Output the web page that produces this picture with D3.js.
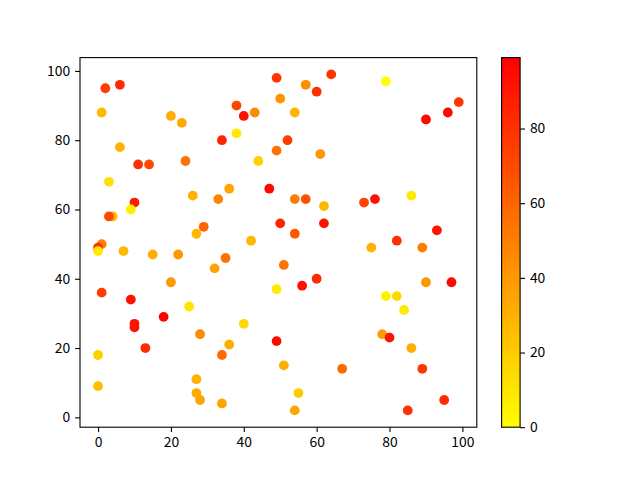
<!DOCTYPE html>
<html>
<head>
<meta charset="utf-8">
<script src="https://cdn.jsdelivr.net/npm/d3@7"></script>
<style>
  body { margin: 0; background: #fff; }
  svg text { font-family: "Noto Sans CJK SC", "Noto Sans", sans-serif; font-size: 13.9px; fill: #000; }
</style>
</head>
<body>
<svg id="chart" width="640" height="480"></svg>
<script>
// scatter points
var xs = [2, 6, 1, 20, 23, 49, 50, 38, 40, 43, 38, 34, 52, 6, 11, 14, 24, 44, 49, 3,
          26, 33, 36, 47, 10, 9, 4, 3, 50, 29, 27, 42, 1, 0, 64, 79, 57, 60, 54, 99,
          96, 90, 61, 54, 57, 62, 73, 76, 86, 62, 54, 93, 82, 75, 89, 0, 7, 15, 22, 35,
          32, 51, 1, 20, 9, 49, 25, 18, 10, 10, 40, 28, 36, 49, 13, 34, 0, 51, 27, 0,
          27, 28, 34, 60, 56, 90, 97, 79, 82, 84, 78, 80, 86, 67, 89, 55, 54, 85, 95];
var ys = [95, 96, 88, 87, 85, 98, 92, 90, 87, 88, 82, 80, 80, 78, 73, 73, 74, 74, 77, 68,
          64, 63, 66, 66, 62, 60, 58, 58, 56, 55, 53, 51, 50, 49, 99, 97, 96, 94, 88, 91,
          88, 86, 76, 63, 63, 61, 62, 63, 64, 56, 53, 54, 51, 49, 49, 48, 48, 47, 47, 46,
          43, 44, 36, 39, 34, 37, 32, 29, 27, 26, 27, 24, 21, 22, 20, 18, 18, 15, 11, 9,
          7, 5, 4, 40, 38, 39, 39, 35, 35, 31, 24, 23, 20, 14, 14, 7, 2, 2, 5];
var cs = [75, 82, 28, 32, 33, 78, 42, 72, 92, 45, 8, 85, 75, 30, 80, 70, 55, 18, 55, 12,
          30, 48, 35, 95, 88, 5, 28, 70, 85, 60, 28, 28, 50, 80, 78, 0, 45, 80, 30, 78,
          95, 95, 40, 50, 68, 28, 72, 92, 8, 92, 65, 92, 80, 30, 50, 8, 28, 32, 40, 55,
          35, 55, 75, 40, 92, 8, 10, 99, 92, 92, 15, 45, 32, 95, 82, 58, 18, 32, 30, 25,
          33, 35, 35, 82, 92, 40, 95, 5, 15, 8, 38, 92, 32, 58, 78, 20, 35, 80, 82];
var xTicks = [0, 20, 40, 60, 80, 100];
var yTicks = [0, 20, 40, 60, 80, 100];
var cTicks = [0, 20, 40, 60, 80];

var points = xs.map(function(d, i) { return {x: d, y: ys[i], c: cs[i]}; });

var svg = d3.select("#chart");
var plot = {left: 80, right: 476.8, top: 57.6, bottom: 427.2};
var cbar = {left: 501.6, right: 520.1, top: 57.6, bottom: 427.2};

// matplotlib-ish 5% margins
function padded(ext) {
  var span = ext[1] - ext[0];
  return [ext[0] - span * 0.05, ext[1] + span * 0.05];
}

var x = d3.scaleLinear()
    .domain(padded(d3.extent(xs)))
    .range([plot.left, plot.right]);
var y = d3.scaleLinear()
    .domain(padded(d3.extent(ys)))
    .range([plot.bottom, plot.top]);
var color = d3.scaleLinear()
    .domain(d3.extent(cs))
    .range(["#ffff00", "#ff0000"])
    .interpolate(d3.interpolateRgb);

// points
svg.append("g")
  .selectAll("circle")
  .data(points)
  .join("circle")
    .attr("cx", function(d) { return x(d.x); })
    .attr("cy", function(d) { return y(d.y); })
    .attr("r", 4.9)
    .attr("fill", function(d) { return color(d.c); });

// axes
var xAxis = svg.append("g")
    .attr("transform", "translate(0," + plot.bottom + ")")
    .call(d3.axisBottom(x).tickValues(xTicks).tickSize(4.9).tickPadding(4.9));
var yAxis = svg.append("g")
    .attr("transform", "translate(" + plot.left + ",0)")
    .call(d3.axisLeft(y).tickValues(yTicks).tickSize(4.9).tickPadding(4.9));
[xAxis, yAxis].forEach(function(a) {
  a.select(".domain").remove();
  a.selectAll(".tick line").attr("stroke", "#000").attr("stroke-width", 1.1);
  a.selectAll(".tick text").attr("font-size", null).attr("font-family", null);
});

svg.append("rect")
    .attr("x", plot.left).attr("y", plot.top)
    .attr("width", plot.right - plot.left).attr("height", plot.bottom - plot.top)
    .attr("fill", "none").attr("stroke", "#000").attr("stroke-width", 1.1);

// colorbar
var cScale = d3.scaleLinear()
    .domain(d3.extent(cs))
    .range([cbar.bottom, cbar.top]);
var grad = svg.append("defs").append("linearGradient")
    .attr("id", "cgrad")
    .attr("x1", 0).attr("y1", 1).attr("x2", 0).attr("y2", 0);
grad.append("stop").attr("offset", "0%").attr("stop-color", color(cScale.domain()[0]));
grad.append("stop").attr("offset", "100%").attr("stop-color", color(cScale.domain()[1]));

svg.append("rect")
    .attr("x", cbar.left).attr("y", cbar.top)
    .attr("width", cbar.right - cbar.left).attr("height", cbar.bottom - cbar.top)
    .attr("fill", "url(#cgrad)").attr("stroke", "#000").attr("stroke-width", 1.1);

var cAxis = svg.append("g")
    .attr("transform", "translate(" + cbar.right + ",0)")
    .call(d3.axisRight(cScale).tickValues(cTicks).tickSize(4.9).tickPadding(4.9));
cAxis.select(".domain").remove();
cAxis.selectAll(".tick line").attr("stroke", "#000").attr("stroke-width", 1.1);
cAxis.selectAll(".tick text").attr("font-size", null).attr("font-family", null);
</script>
</body>
</html>
